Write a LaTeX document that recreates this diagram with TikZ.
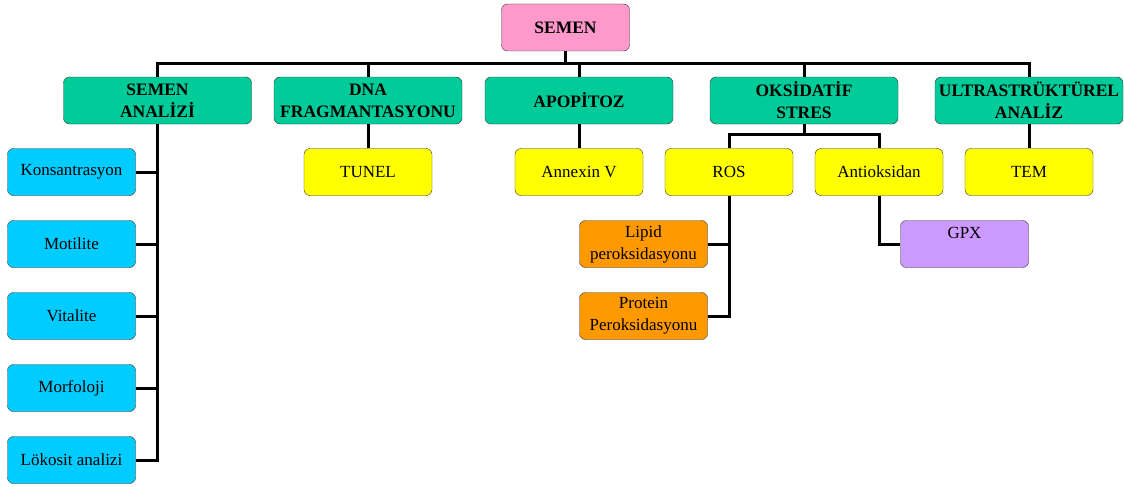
\documentclass[tikz,border=0pt]{standalone}
\usepackage{fontspec}
\setmainfont{Liberation Serif}
\usepackage{tikz}

\definecolor{pembe}{HTML}{FF99CC}
\definecolor{yesil}{HTML}{00CC99}
\definecolor{sari}{HTML}{FFFF00}
\definecolor{mavi}{HTML}{00CCFF}
\definecolor{turuncu}{HTML}{FF9900}
\definecolor{mor}{HTML}{CC99FF}

\begin{document}
\begin{tikzpicture}[x=1pt, y=-1pt,
	kutu/.style={draw=black!80, rounded corners=6pt, minimum width=128pt, minimum height=47pt,
		align=center, inner sep=1pt, font=\fontsize{17}{22}\selectfont},
	baslik/.style={kutu, fill=yesil, minimum width=188pt, font=\fontsize{17.5}{22}\selectfont\bfseries},
	baglanti/.style={line width=3pt}]
	\useasboundingbox (0,0) rectangle (1124,487);

	% ana kutu
	\node [kutu, fill=pembe, font=\fontsize{17.5}{22}\selectfont\bfseries] (semen) at (565.5,27.5) {SEMEN};

	% ikinci seviye
	\node [baslik] (analiz) at (157.5,100.5) {SEMEN\\ANALİZİ};
	\node [baslik] (dna) at (368,100.5) {DNA\\FRAGMANTASYONU};
	\node [baslik] (apop) at (579,100.5) {APOPİTOZ};
	\node [baslik] (oks) at (804,100.5) {OKSİDATİF\\STRES};
	\node [baslik] (ultra) at (1029,100.5) {ULTRASTRÜKTÜREL\\ANALİZ};

	% semen analizi
	\node [kutu, fill=mavi] (kons) at (71.5,172) {Konsantrasyon};
	\node [kutu, fill=mavi] (moti) at (71.5,244) {Motilite};
	\node [kutu, fill=mavi] (vita) at (71.5,316) {Vitalite};
	\node [kutu, fill=mavi] (morf) at (71.5,388) {Morfoloji};
	\node [kutu, fill=mavi] (loko) at (71.5,460) {Lökosit analizi};

	% ucuncu seviye
	\node [kutu, fill=sari] (tunel) at (368,172) {TUNEL};
	\node [kutu, fill=sari] (annex) at (579,172) {Annexin V};
	\node [kutu, fill=sari] (ros) at (729,172) {ROS};
	\node [kutu, fill=sari] (antiok) at (879,172) {Antioksidan};
	\node [kutu, fill=sari] (tem) at (1029,172) {TEM};

	\node [kutu, fill=turuncu] (lipid) at (643.5,244) {Lipid\\peroksidasyonu};
	\node [kutu, fill=turuncu] (prot) at (643.5,316) {Protein\\Peroksidasyonu};
	\node [kutu, fill=mor] (gpx) at (964.5,244) {GPX\\~};

	% baglantilar
	\foreach \n in {analiz, dna, apop, oks, ultra}
		\draw [baglanti] (semen.south) -- +(0,12) -| (\n.north);
	\foreach \n in {kons, moti, vita, morf, loko}
		\draw [baglanti] (analiz.south) |- (\n.east);
	\draw [baglanti] (dna) -- (tunel);
	\draw [baglanti] (apop) -- (annex);
	\draw [baglanti] (ultra) -- (tem);
	\draw [baglanti] (oks.south) -- +(0,10) -| (ros.north);
	\draw [baglanti] (oks.south) -- +(0,10) -| (antiok.north);
	\draw [baglanti] (ros.south) |- (lipid.east);
	\draw [baglanti] (ros.south) |- (prot.east);
	\draw [baglanti] (antiok.south) |- (gpx.west);
\end{tikzpicture}
\end{document}
